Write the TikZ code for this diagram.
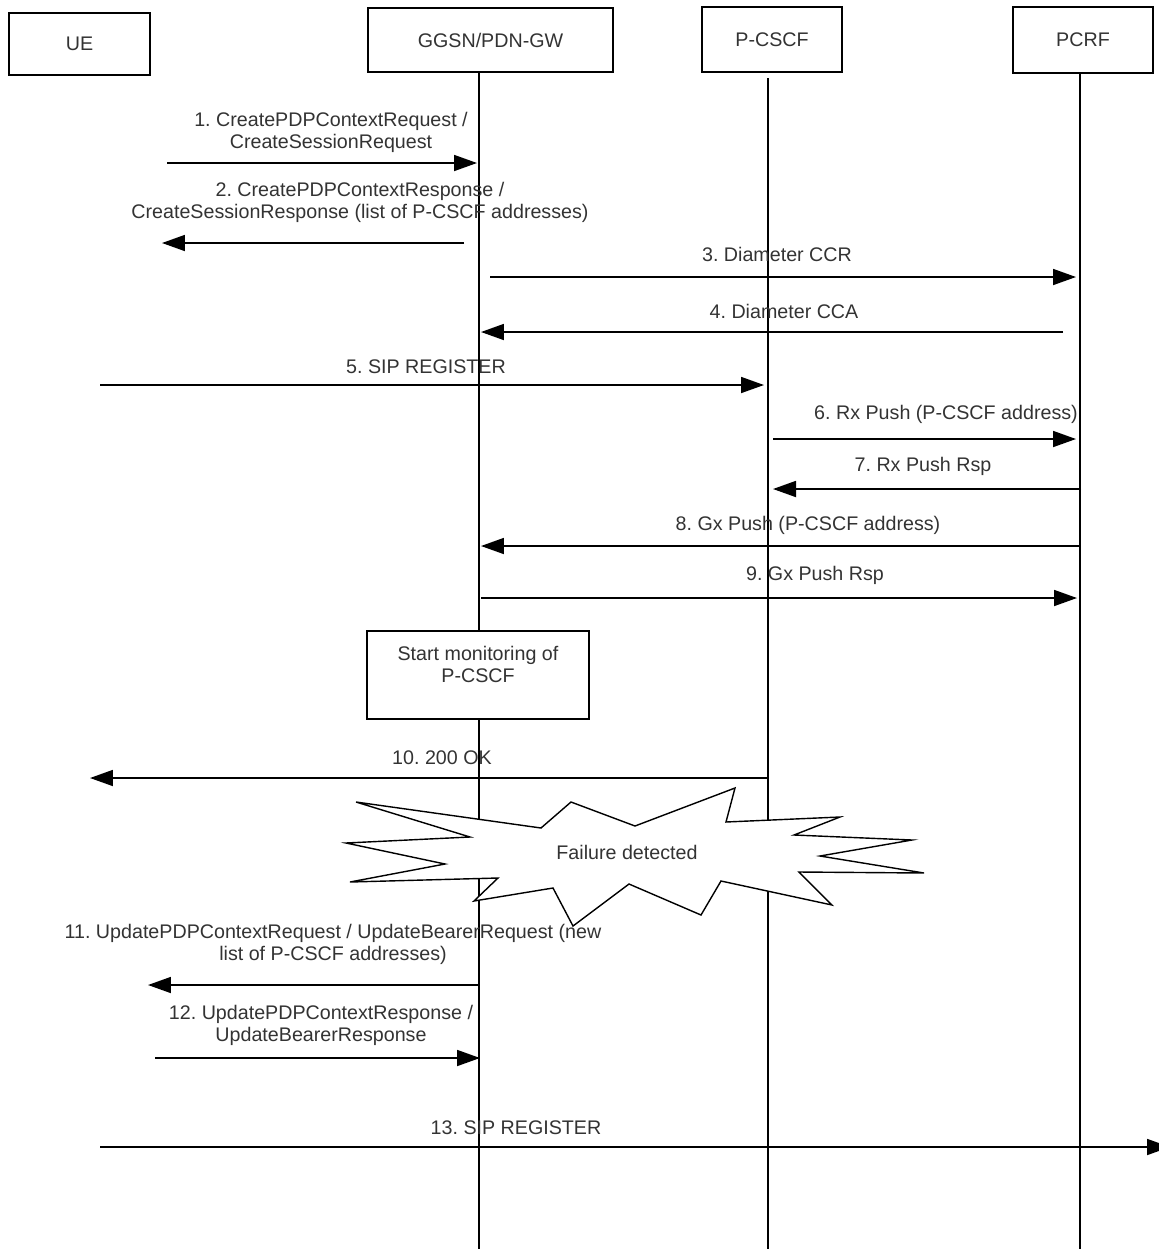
\documentclass[tikz,border=0pt]{standalone}
\usepackage{fontspec}
\setmainfont{Liberation Sans}
\usetikzlibrary{arrows.meta,positioning}
\frenchspacing

\begin{document}
\begin{tikzpicture}[x=0.02cm,y=-0.02cm,
  every node/.style={font=\fontsize{11.2}{12.5}\selectfont,text=black!80},
  entity/.style={draw,line width=1pt,inner sep=0pt},
  lifeline/.style={line width=.7pt},
  msg/.style={line width=1pt,-{Triangle[length=.46cm,width=.32cm]}},
  msglabel/.style={align=center,inner sep=0pt}]
\clip (0,0) rectangle (1159,1249);
% entities
\node[entity,minimum width=2.82cm,minimum height=1.24cm] (ue) at (79.5,44) {UE};
\node[entity,minimum width=4.9cm,minimum height=1.28cm] (gw) at (490.5,40) {GGSN/PDN-GW};
\node[entity,minimum width=2.8cm,minimum height=1.3cm] (pcscf) at (772,39.5) {P-CSCF};
\node[entity,minimum width=2.8cm,minimum height=1.32cm] (pcrf) at (1083,40) {PCRF};
% lifelines
\coordinate (gwtop) at (479,72);
\coordinate (gwbot) at (479,1249);
\coordinate (pctop) at (768,78);
\coordinate (pcbot) at (768,1249);
\coordinate (rftop) at (1080,73);
\coordinate (rfbot) at (1080,1249);
\draw[lifeline] (gwtop)--(gwbot);
\draw[lifeline] (pctop)--(pcbot);
\draw[lifeline] (rftop)--(rfbot);
% failure
\draw[line width=.8pt,fill=white] (356,802)--(541,828)--(571,802)--(635,826)--(735,788)--(726,822)--(840,817)--(794,835)--(912,840)--(820,856)--(924,873)--(799,872)--(832,905)--(721,881)--(701,915)--(629,884)--(573,926)--(553,888)--(474,901)--(498,878)--(350,882)--(445,864)--(346,843)--(470,837)--cycle;
\node[inner sep=0pt] (fail) at (627,852) {Failure detected};
% monitoring box
\node[entity,fill=white,minimum width=4.44cm,minimum height=1.76cm,align=center] (mon) at (478,675) {Start monitoring of\\P-CSCF\\\mbox{}};
% messages
\coordinate (m1a) at (167,163);\coordinate (m1b) at (477,163);
\draw[msg] (m1a)--(m1b);
\node[msglabel] (l1) at (331,132) {1. CreatePDPContextRequest /\\CreateSessionRequest};
\coordinate (m2a) at (464,243);\coordinate (m2b) at (162,243);
\draw[msg] (m2a)--(m2b);
\node[msglabel] (l2) at (360,202) {2. CreatePDPContextResponse /\\CreateSessionResponse (list of P-CSCF addresses)};
\coordinate (m3a) at (490,277);\coordinate (m3b) at (1076,277);
\draw[msg] (m3a)--(m3b);
\node[msglabel] (l3) at (777,254) {3. Diameter CCR};
\coordinate (m4a) at (1063,332);\coordinate (m4b) at (481,332);
\draw[msg] (m4a)--(m4b);
\node[msglabel] (l4) at (784,311) {4. Diameter CCA};
\coordinate (m5a) at (100,385);\coordinate (m5b) at (764,385);
\draw[msg] (m5a)--(m5b);
\node[msglabel] (l5) at (426,367) {5. SIP REGISTER};
\coordinate (m6a) at (773,439);\coordinate (m6b) at (1076,439);
\draw[msg] (m6a)--(m6b);
\node[msglabel] (l6) at (946,414) {6. Rx Push (P-CSCF address)};
\coordinate (m7a) at (1081,489);\coordinate (m7b) at (773,489);
\draw[msg] (m7a)--(m7b);
\node[msglabel] (l7) at (923,466) {7. Rx Push Rsp};
\coordinate (m8a) at (1079,546);\coordinate (m8b) at (481,546);
\draw[msg] (m8a)--(m8b);
\node[msglabel] (l8) at (808,525) {8. Gx Push (P-CSCF address)};
\coordinate (m9a) at (481,598);\coordinate (m9b) at (1077,598);
\draw[msg] (m9a)--(m9b);
\node[msglabel] (l9) at (815,575) {9. Gx Push Rsp};
\coordinate (m10a) at (768,778);\coordinate (m10b) at (90,778);
\draw[msg] (m10a)--(m10b);
\node[msglabel] (l10) at (442,758) {10. 200 OK};
\coordinate (m11a) at (479,985);\coordinate (m11b) at (148,985);
\draw[msg] (m11a)--(m11b);
\node[msglabel] (l11) at (333,944) {11. UpdatePDPContextRequest / UpdateBearerRequest (new\\list of P-CSCF addresses)};
\coordinate (m12a) at (155,1058);\coordinate (m12b) at (480,1058);
\draw[msg] (m12a)--(m12b);
\node[msglabel] (l12) at (321,1025) {12. UpdatePDPContextResponse /\\UpdateBearerResponse};
\coordinate (m13a) at (100,1147);\coordinate (m13b) at (1170,1147);
\draw[msg] (m13a)--(m13b);
\node[msglabel] (l13) at (516,1128) {13. SIP REGISTER};
\end{tikzpicture}
\end{document}
